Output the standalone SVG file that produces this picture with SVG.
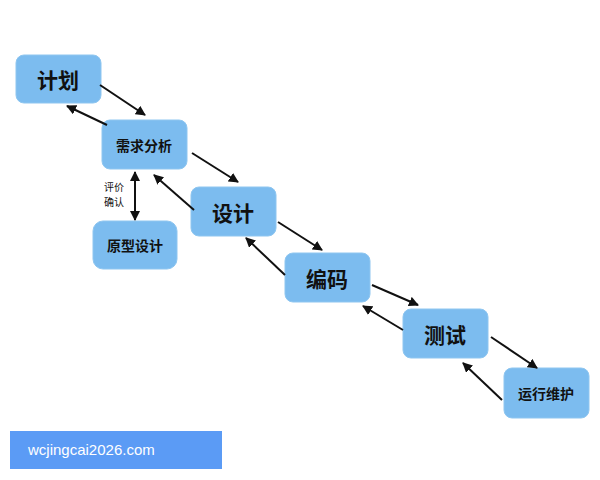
<svg xmlns="http://www.w3.org/2000/svg" width="600" height="480" viewBox="0 0 600 480">
<style>
.n{fill:#7cbcef;stroke:#8fc6f0;stroke-width:1}
.t{font-family:"Noto Sans CJK SC",sans-serif;font-weight:bold;fill:#111;text-anchor:middle;dominant-baseline:central}
.c line{stroke:#111;stroke-width:2;marker-end:url(#a)}
.s{font-family:"Noto Sans CJK SC",sans-serif;font-size:10px;fill:#111}
</style>
<defs><marker id="a" viewBox="0 0 10 10" refX="9" refY="5" markerWidth="5" markerHeight="5" orient="auto-start-reverse" markerUnits="strokeWidth"><path d="M0,0L10,5L0,10z" fill="#111"/></marker></defs>
<rect width="600" height="480" fill="#fff"/>
<g id="n1"><rect class="n" x="16" y="55" width="85" height="48" rx="8"/><text class="t" x="58" y="79" font-size="21">计划</text></g>
<g id="n2"><rect class="n" x="102" y="120" width="85" height="49" rx="8"/><text class="t" x="144" y="145" font-size="14">需求分析</text></g>
<g id="n3"><rect class="n" x="93" y="221" width="84" height="48" rx="10"/><text class="t" x="135" y="245" font-size="14">原型设计</text></g>
<g id="n4"><rect class="n" x="191" y="187" width="85" height="49" rx="8"/><text class="t" x="233" y="212" font-size="21">设计</text></g>
<g id="n5"><rect class="n" x="285" y="253" width="85" height="49" rx="8"/><text class="t" x="327" y="278" font-size="21">编码</text></g>
<g id="n6"><rect class="n" x="403" y="309" width="85" height="49" rx="8"/><text class="t" x="445" y="334" font-size="21">测试</text></g>
<g id="n7"><rect class="n" x="504" y="368" width="85" height="50" rx="8"/><text class="t" x="546" y="393" font-size="14">运行维护</text></g>
<g class="c" id="connectors">
<line x1="100" y1="85" x2="145" y2="115"/>
<line x1="107" y1="125" x2="67" y2="106"/>
<line x1="192" y1="153" x2="238" y2="182"/>
<line x1="194" y1="210" x2="154" y2="175"/>
<line x1="278" y1="222" x2="322" y2="250"/>
<line x1="285" y1="275" x2="246" y2="238"/>
<line x1="372" y1="285" x2="418" y2="305"/>
<line x1="403" y1="330" x2="363" y2="306"/>
<line x1="491" y1="337" x2="537" y2="368"/>
<line x1="502" y1="400" x2="463" y2="363"/>
<line x1="135" y1="172" x2="135" y2="220" style="marker-start:url(#a)"/>
</g>
<text class="s" x="104" y="191">评价</text>
<text class="s" x="104" y="206">确认</text>
<rect x="10" y="431" width="212" height="38" fill="#5b9bf5"/>
<text font-family="Liberation Sans,sans-serif" font-size="15" fill="#fff" x="28" y="455">wcjingcai2026.com</text>
</svg>
